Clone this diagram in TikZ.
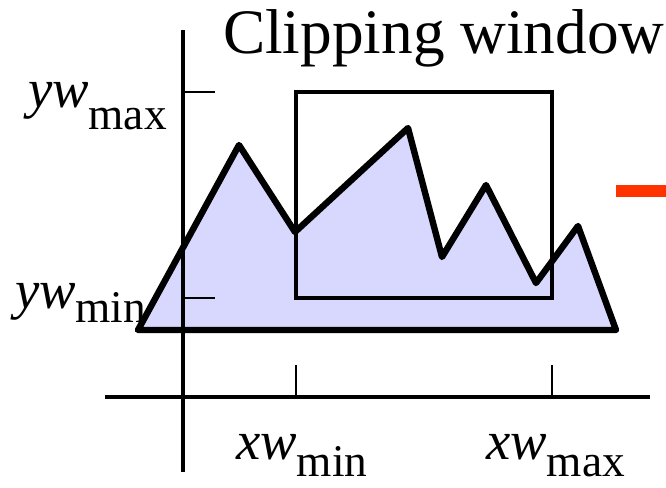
\documentclass[tikz,border=0pt]{standalone}
\usepackage{fontspec}
\setmainfont{Liberation Serif}
\definecolor{fillc}{RGB}{216,216,255}
\definecolor{dashc}{RGB}{255,51,0}
\tikzset{
  axis/.style={line width=3pt},
  tick/.style={line width=1.2pt},
  win/.style={line width=2.6pt},
  poly/.style={line width=4.8pt, line join=round, fill=fillc},
  lbl/.style={anchor=base west, inner sep=0pt, outer sep=0pt},
}
\newcommand{\mainf}{\fontsize{41}{41}\selectfont}
\newcommand{\subf}{\fontsize{34}{34}\selectfont}
\begin{document}
\begin{tikzpicture}[x=0.75pt,y=-0.75pt]
\useasboundingbox (0,0) rectangle (666,487);
% polygon
\coordinate (p1) at (138,330);
\coordinate (p2) at (239,145);
\coordinate (p3) at (295,232);
\coordinate (p4) at (408,128);
\coordinate (p5) at (442,257);
\coordinate (p6) at (486,185);
\coordinate (p7) at (536,283);
\coordinate (p8) at (578,226);
\coordinate (p9) at (616,330);
\draw[poly] (p1) -- (p2) -- (p3) -- (p4) -- (p5) -- (p6) -- (p7) -- (p8) -- (p9) -- cycle;
% window
\coordinate (w1) at (296,92);
\coordinate (w2) at (552,298);
\draw[win] (w1) rectangle (w2);
% axes
\coordinate (ya) at (183,30);
\coordinate (yb) at (183,472);
\coordinate (xa) at (105,397);
\coordinate (xb) at (650,397);
\draw[axis] (ya) -- (yb);
\draw[axis] (xa) -- (xb);
% ticks
\coordinate (t1a) at (183,92);  \coordinate (t1b) at (215,92);
\coordinate (t2a) at (183,298); \coordinate (t2b) at (215,298);
\coordinate (t3a) at (296,365); \coordinate (t3b) at (296,397);
\coordinate (t4a) at (552,365); \coordinate (t4b) at (552,397);
\draw[tick] (t1a) -- (t1b);
\draw[tick] (t2a) -- (t2b);
\draw[tick] (t3a) -- (t3b);
\draw[tick] (t4a) -- (t4b);
% orange dash
\coordinate (d1) at (616,185);
\coordinate (d2) at (666,197);
\fill[dashc] (d1) rectangle (d2);
% labels
\node[lbl] (title) at (223,53) {\fontsize{47.5}{47.5}\selectfont Clipping window};
\node[lbl] (ywmax) at (28,107) {\mainf\itshape yw\/\subf\upshape\raisebox{-17pt}{max}};
\node[lbl] (ywmin) at (15,308) {\mainf\itshape yw\/\subf\upshape\raisebox{-11pt}{min}};
\node[lbl] (xwmin) at (236,459) {\mainf\itshape xw\/\subf\upshape\raisebox{-13pt}{min}};
\node[lbl] (xwmax) at (486,459) {\mainf\itshape xw\/\subf\upshape\raisebox{-13pt}{max}};
\end{tikzpicture}
\end{document}
